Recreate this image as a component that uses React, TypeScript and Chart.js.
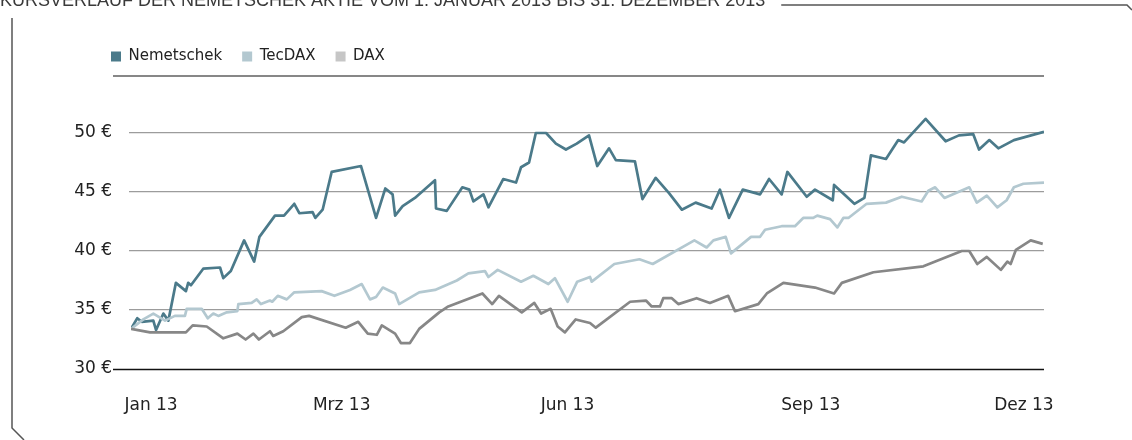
import React, { useEffect, useRef } from "react";
import { Chart, registerables } from "chart.js";

Chart.register(...registerables);

const titleText = "KURSVERLAUF DER NEMETSCHEK AKTIE VOM 1. JANUAR 2013 BIS 31. DEZEMBER 2013";
const seriesNames = ["Nemetschek", "TecDAX", "DAX"];
const xTickDays = [8, 84, 174, 271, 356];
const xTickLabels = ["Jan 13", "Mrz 13", "Jun 13", "Sep 13", "Dez 13"];
const yTickValues = [30, 35, 40, 45, 50];

// day of year (0 = 1 Jan 2013) and closing value in EUR
const nemDays = [0, 2.5, 4.3, 8.9, 10, 12.9, 14.9, 17.9, 21.9, 22.8, 23.9, 28.8, 35.5, 36.8, 39.8, 45.1, 49.1, 51.2, 57.4, 61, 65.1, 67.1, 72.4, 73.5, 76.4, 80, 91.7, 97.7, 101.4, 104.3, 105.3, 108.3, 113.2, 121.2, 121.6, 125.9, 132.1, 134.9, 136.5, 140.5, 142.5, 148.4, 153.5, 155.5, 158.7, 161.4, 165.5, 169.4, 173.4, 177.7, 182.6, 185.9, 190.6, 193.3, 200.9, 203.9, 209.2, 214.5, 219.6, 225.1, 231.5, 234.8, 238.4, 243.9, 250.8, 254.4, 259.4, 261.7, 269.4, 272.7, 279.8, 280.3, 288.4, 292.4, 295, 301, 305.9, 308.2, 316.8, 324.8, 330.1, 335.8, 338.1, 342.2, 345.8, 352, 364];
const nemValues = [33.4, 34.3, 34.0, 34.1, 33.3, 34.7, 34.1, 37.3, 36.6, 37.3, 37.1, 38.5, 38.6, 37.7, 38.3, 40.9, 39.1, 41.2, 43.0, 43.0, 44.0, 43.2, 43.3, 42.8, 43.5, 46.7, 47.2, 42.8, 45.3, 44.8, 43.0, 43.8, 44.5, 46.0, 43.6, 43.4, 45.4, 45.2, 44.2, 44.8, 43.7, 46.1, 45.8, 47.1, 47.5, 50.0, 50.0, 49.1, 48.6, 49.1, 49.8, 47.2, 48.7, 47.7, 47.6, 44.4, 46.2, 44.9, 43.5, 44.1, 43.6, 45.2, 42.8, 45.2, 44.8, 46.1, 44.8, 46.7, 44.6, 45.2, 44.3, 45.6, 44.0, 44.5, 48.1, 47.8, 49.4, 49.2, 51.2, 49.3, 49.8, 49.9, 48.6, 49.4, 48.7, 49.4, 50.1];

const tecDays = [0, 4.9, 8.9, 13.6, 17.5, 21.5, 22.2, 28.2, 30.6, 32.8, 34.8, 38.2, 42.4, 42.8, 48.1, 50.1, 51.8, 55.4, 56.3, 58.5, 62.1, 65.1, 76, 81.1, 87.3, 92, 95.3, 97.7, 100.4, 105.3, 106.9, 114.9, 121.2, 129.9, 134.5, 141.1, 142.5, 146.2, 155.5, 160.4, 166.4, 169, 174.1, 177.9, 183, 183.7, 192.7, 202.7, 208, 224.6, 229.5, 232.2, 237.1, 239.2, 247.2, 250.8, 252.8, 259.4, 264.7, 268, 272, 273.6, 278.7, 281.6, 284, 286, 293.3, 301, 307.3, 315.2, 317.9, 320.6, 324.3, 334.2, 337.2, 341.2, 345.4, 349.1, 352, 355.8, 364];
const tecValues = [33.4, 34.2, 34.7, 34.1, 34.5, 34.5, 35.1, 35.1, 34.3, 34.7, 34.5, 34.8, 34.9, 35.5, 35.6, 35.9, 35.5, 35.8, 35.7, 36.2, 35.9, 36.5, 36.6, 36.2, 36.7, 37.2, 35.9, 36.1, 36.9, 36.4, 35.5, 36.5, 36.7, 37.5, 38.1, 38.3, 37.8, 38.4, 37.4, 37.9, 37.2, 37.7, 35.7, 37.4, 37.8, 37.4, 38.9, 39.3, 38.9, 40.9, 40.3, 40.9, 41.2, 39.8, 41.2, 41.2, 41.8, 42.1, 42.1, 42.8, 42.8, 43.0, 42.7, 42.0, 42.8, 42.8, 44.0, 44.1, 44.6, 44.2, 45.1, 45.4, 44.5, 45.4, 44.1, 44.7, 43.7, 44.3, 45.4, 45.7, 45.8];

const daxDays = [0, 7.6, 21.9, 24.6, 30.2, 36.8, 42.4, 45.7, 48.8, 51, 55.4, 56.7, 60.7, 68.1, 71, 85.6, 90.6, 94.4, 98, 100, 105.3, 107.6, 111.2, 114.9, 122.9, 126.5, 140.1, 144, 146.7, 155.8, 160.8, 163.5, 167.3, 170.1, 173, 177.3, 183, 185.3, 199, 205.3, 207.6, 210.9, 212.2, 215.6, 218.2, 225.5, 230.8, 238.1, 240.8, 250.1, 253.5, 260.1, 272.7, 280.3, 283.4, 296, 315.9, 331.2, 334.2, 337.4, 341.2, 346.8, 349.4, 350.7, 352.8, 358.7, 363.5];
const daxValues = [33.4, 33.1, 33.1, 33.7, 33.6, 32.6, 33.0, 32.5, 33.0, 32.5, 33.2, 32.8, 33.2, 34.4, 34.5, 33.5, 34.0, 33.0, 32.9, 33.7, 33.0, 32.2, 32.2, 33.4, 34.8, 35.3, 36.4, 35.5, 36.2, 34.8, 35.6, 34.7, 35.1, 33.6, 33.1, 34.2, 33.9, 33.5, 35.7, 35.8, 35.3, 35.3, 36.0, 36.0, 35.5, 36.0, 35.6, 36.2, 34.9, 35.5, 36.4, 37.3, 36.9, 36.4, 37.3, 38.2, 38.7, 40.0, 40.0, 38.9, 39.5, 38.4, 39.1, 38.9, 40.1, 40.9, 40.6];

const lineColors = ["#4b7a8a", "#b3c8d0", "#878787"];
const legendColors = ["#4b7a8a", "#b3c8d0", "#c6c6c6"];

const toPoints = (days: number[], values: number[]) =>
  days.map((d, i) => ({ x: d, y: values[i] }));

const FONT = "'DejaVu Sans', sans-serif";

const legendShiftPlugin = {
  id: "legendShift",
  afterLayout(chart: any) {
    const lg = chart.legend;
    if (!lg) return;
    const target = chart.chartArea.left - 40;
    const dx = target - lg.left;
    lg.left += dx;
    lg.right += dx;
  },
};

const decorPlugin = {
  id: "decor",
  afterDraw(chart: any) {
    const { ctx, chartArea } = chart;
    const yScale = chart.scales.y;
    ctx.save();
    // rule under legend
    ctx.strokeStyle = "#111";
    ctx.lineWidth = 1.2;
    ctx.beginPath();
    ctx.moveTo(chartArea.left - 18, chartArea.top + 2);
    ctx.lineTo(chartArea.right, chartArea.top + 2);
    ctx.stroke();
    // baseline at 30
    const yb = Math.round(yScale.getPixelForValue(30)) + 0.5;
    ctx.lineWidth = 1.4;
    ctx.beginPath();
    ctx.moveTo(chartArea.left - 18, yb);
    ctx.lineTo(chartArea.right, yb);
    ctx.stroke();
    // title (partly cut off at top)
    ctx.font = "18px 'Liberation Sans', Arial, sans-serif";
    ctx.fillStyle = "#3a3a3a";
    ctx.textBaseline = "alphabetic";
    ctx.textAlign = "left";
    ctx.fillText(titleText, 0, 6);
    const tw = ctx.measureText(titleText).width;
    // frame
    ctx.strokeStyle = "#555";
    ctx.lineWidth = 1.5;
    ctx.beginPath();
    ctx.moveTo(tw + 16, 5);
    ctx.lineTo(1127, 5);
    ctx.lineTo(1132, 10);
    ctx.moveTo(12, 18);
    ctx.lineTo(12, 428);
    ctx.lineTo(24, 440);
    ctx.stroke();
    ctx.restore();
  },
};

export default function App() {
  const ref = useRef<HTMLCanvasElement | null>(null);
  useEffect(() => {
    if (!ref.current) return;
    const chart = new Chart(ref.current, {
      type: "line",
      data: {
        datasets: [
          { label: seriesNames[0], data: toPoints(nemDays, nemValues), borderColor: lineColors[0], backgroundColor: legendColors[0] },
          { label: seriesNames[1], data: toPoints(tecDays, tecValues), borderColor: lineColors[1], backgroundColor: legendColors[1] },
          { label: seriesNames[2], data: toPoints(daxDays, daxValues), borderColor: lineColors[2], backgroundColor: legendColors[2] },
        ].reverse().map((d) => ({ ...d, borderWidth: 2.7, pointRadius: 0, tension: 0, fill: false, borderJoinStyle: "round" as const })),
      },
      options: {
        animation: false,
        responsive: false,
        maintainAspectRatio: false,
        layout: { padding: { left: 41, right: 88, top: 29, bottom: 0 } },
        plugins: {
          tooltip: { enabled: false },
          legend: {
            display: true,
            position: "top",
            align: "start",
            labels: {
              boxWidth: 10,
              boxHeight: 10,
              padding: 20,
              color: "#222",
              font: { family: FONT, size: 15 },
              generateLabels: () =>
                seriesNames.map((n, i) => ({
                  text: n,
                  fillStyle: legendColors[i],
                  strokeStyle: legendColors[i],
                  lineWidth: 0,
                  hidden: false,
                  datasetIndex: 2 - i,
                  fontColor: "#222",
                })),
            },
          },
        },
        scales: {
          x: {
            type: "linear",
            min: 0,
            max: 364,
            grid: { display: false },
            border: { display: false },
            afterBuildTicks: (s: any) => {
              s.ticks = xTickDays.map((v) => ({ value: v }));
            },
            afterFit: (s: any) => {
              s.height = 71;
            },
            ticks: {
              autoSkip: false,
              maxRotation: 0,
              padding: 18,
              color: "#222",
              font: { family: FONT, size: 17 },
              callback: (v: any) => xTickLabels[xTickDays.indexOf(Number(v))],
            },
          },
          y: {
            min: 30,
            max: 55,
            afterBuildTicks: (s: any) => {
              s.ticks = yTickValues.map((v) => ({ value: v }));
            },
            afterFit: (s: any) => {
              s.width = 90;
            },
            border: { display: false },
            grid: {
              color: (c: any) => (c.tick && c.tick.value === 30 ? "rgba(0,0,0,0)" : "#9c9c9c"),
              lineWidth: 1.3,
              drawTicks: true,
              tickLength: 2,
            },
            ticks: {
              padding: 17,
              color: "#222",
              font: { family: FONT, size: 17 },
              callback: (v: any) => v + " €",
            },
          },
        },
      },
      plugins: [legendShiftPlugin, decorPlugin],
    });
    return () => chart.destroy();
  }, []);
  return (
    <div style={{ position: "absolute", left: 0, top: 0, width: 1132, height: 440, background: "#fff" }}>
      <canvas ref={ref} width={1132} height={440} />
    </div>
  );
}
